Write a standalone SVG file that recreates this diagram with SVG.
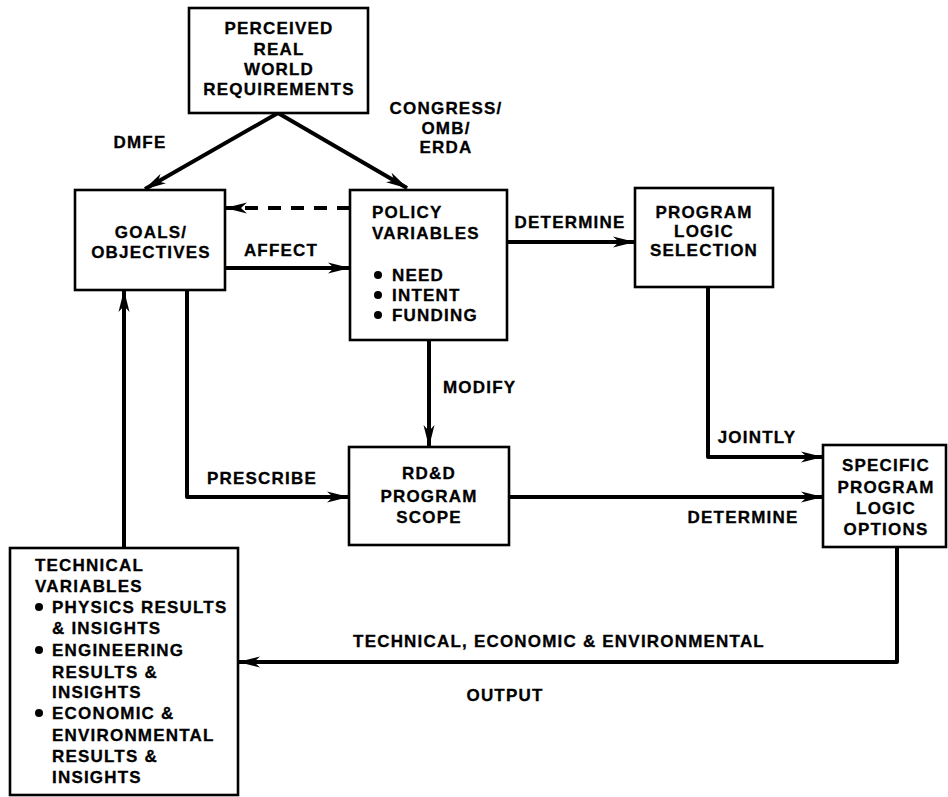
<svg xmlns="http://www.w3.org/2000/svg" width="948" height="797" viewBox="0 0 948 797">
<defs>
<style>
.box{fill:#fff;stroke:#000;stroke-width:2.6}
.t{font-family:"Liberation Sans",Arial,sans-serif;font-weight:bold;font-size:17px;letter-spacing:1.2px;fill:#000;stroke:#000;stroke-width:0.3}
.c{text-anchor:middle}
.ln{fill:none;stroke:#000;stroke-width:4;stroke-linejoin:round}
.dash{stroke-dasharray:13 10}
</style>
<marker id="ah" markerUnits="userSpaceOnUse" viewBox="0 0 22 12" refX="21" refY="6" markerWidth="22" markerHeight="12" orient="auto">
<path d="M0,0.5 L22,6 L0,11.5 L6,6 z" fill="#000"/>
</marker>
</defs>
<rect width="948" height="797" fill="#fff"/>

<g id="connectors">
<line class="ln" x1="278" y1="113" x2="145" y2="189" marker-end="url(#ah)"/>
<line class="ln" x1="278" y1="113" x2="407" y2="188" marker-end="url(#ah)"/>
<line class="ln dash" x1="350" y1="208" x2="226" y2="208" marker-end="url(#ah)"/>
<line class="ln" x1="225" y1="268" x2="349" y2="268" marker-end="url(#ah)"/>
<line class="ln" x1="507" y1="242" x2="634" y2="242" marker-end="url(#ah)"/>
<path class="ln" d="M708,287 V457 H822" marker-end="url(#ah)"/>
<line class="ln" x1="429" y1="340" x2="429" y2="446" marker-end="url(#ah)"/>
<path class="ln" d="M187,290 V497 H348" marker-end="url(#ah)"/>
<line class="ln" x1="124" y1="548" x2="124" y2="291" marker-end="url(#ah)"/>
<line class="ln" x1="509" y1="497" x2="822" y2="497" marker-end="url(#ah)"/>
<path class="ln" d="M897,547 V662 H239" marker-end="url(#ah)"/>
<text class="t c" x="140" y="148">DMFE</text>
<text class="t c" x="446" y="114">CONGRESS/</text>
<text class="t c" x="446" y="134">OMB/</text>
<text class="t c" x="446" y="153">ERDA</text>
<text class="t c" x="281" y="256">AFFECT</text>
<text class="t c" x="570" y="228">DETERMINE</text>
<text class="t" x="443" y="393">MODIFY</text>
<text class="t c" x="262" y="484">PRESCRIBE</text>
<text class="t c" x="757" y="443">JOINTLY</text>
<text class="t c" x="743" y="523">DETERMINE</text>
<text class="t c" x="559" y="647">TECHNICAL, ECONOMIC &amp; ENVIRONMENTAL</text>
<text class="t c" x="505" y="701">OUTPUT</text>
</g>

<g id="perceived">
<rect class="box" x="189" y="8" width="179" height="105"/>
<text class="t c" x="279" y="34">PERCEIVED</text>
<text class="t c" x="279" y="55">REAL</text>
<text class="t c" x="279" y="75">WORLD</text>
<text class="t c" x="279" y="95">REQUIREMENTS</text>
</g>

<g id="goals">
<rect class="box" x="75" y="190" width="150" height="100"/>
<text class="t c" x="151" y="238">GOALS/</text>
<text class="t c" x="151" y="258">OBJECTIVES</text>
</g>

<g id="policy">
<rect class="box" x="350" y="190" width="157" height="150"/>
<text class="t" x="372" y="218">POLICY</text>
<text class="t" x="372" y="239">VARIABLES</text>
<circle cx="378" cy="275" r="4"/>
<text class="t" x="392" y="281">NEED</text>
<circle cx="378" cy="295" r="4"/>
<text class="t" x="392" y="301">INTENT</text>
<circle cx="378" cy="315" r="4"/>
<text class="t" x="392" y="321">FUNDING</text>
</g>

<g id="logic-selection">
<rect class="box" x="635" y="188" width="138" height="99"/>
<text class="t c" x="704" y="218">PROGRAM</text>
<text class="t c" x="704" y="237">LOGIC</text>
<text class="t c" x="704" y="256">SELECTION</text>
</g>

<g id="rdd">
<rect class="box" x="349" y="447" width="160" height="98"/>
<text class="t c" x="429" y="479">RD&amp;D</text>
<text class="t c" x="429" y="502">PROGRAM</text>
<text class="t c" x="429" y="523">SCOPE</text>
</g>

<g id="specific">
<rect class="box" x="823" y="445" width="123" height="102"/>
<text class="t c" x="886" y="471">SPECIFIC</text>
<text class="t c" x="886" y="493">PROGRAM</text>
<text class="t c" x="886" y="514">LOGIC</text>
<text class="t c" x="886" y="535">OPTIONS</text>
</g>

<g id="technical">
<rect class="box" x="10" y="548" width="228" height="247"/>
<text class="t" x="35" y="571">TECHNICAL</text>
<text class="t" x="35" y="592">VARIABLES</text>
<circle cx="39" cy="607" r="4"/>
<text class="t" x="52" y="613">PHYSICS RESULTS</text>
<text class="t" x="52" y="634">&amp; INSIGHTS</text>
<circle cx="39" cy="650" r="4"/>
<text class="t" x="52" y="656">ENGINEERING</text>
<text class="t" x="52" y="678">RESULTS &amp;</text>
<text class="t" x="52" y="698">INSIGHTS</text>
<circle cx="39" cy="713" r="4"/>
<text class="t" x="52" y="719">ECONOMIC &amp;</text>
<text class="t" x="52" y="741">ENVIRONMENTAL</text>
<text class="t" x="52" y="762">RESULTS &amp;</text>
<text class="t" x="52" y="783">INSIGHTS</text>
</g>
</svg>
